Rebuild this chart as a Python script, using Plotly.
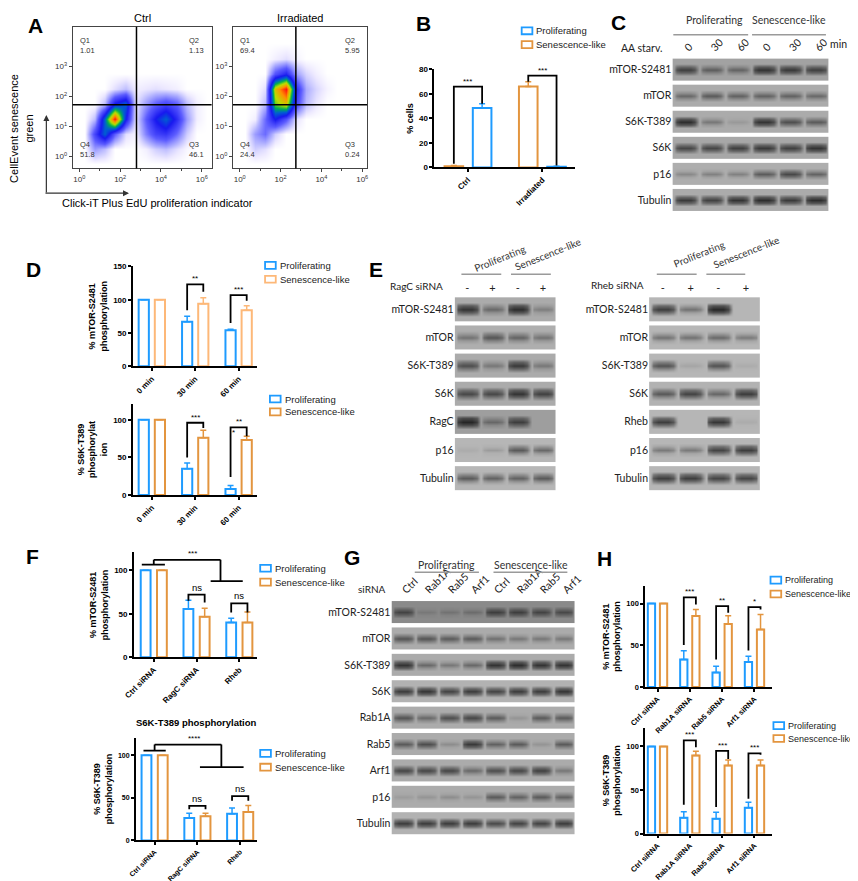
import plotly.graph_objects as go

W, H = 858, 881
BLUE = '#1E9BFF'
ORANGE = '#E3953F'
ORANGE_LIGHT = '#FDB878'
BAR_FONT = 'Liberation Sans, Arial, sans-serif'
BLOT_FONT = 'Lato, Open Sans, sans-serif'

# ---------------- A: flow cytometry (density on a log10 grid) ----------------
flow_x = [-0.25, 0.25, 0.75, 1.25, 1.75, 2.25, 2.75, 3.25, 3.75, 4.25, 4.75, 5.25, 5.75, 6.25]
flow_y = [-0.25, 0.25, 0.75, 1.25, 1.75, 2.25, 2.75, 3.25, 3.75, 4.25]
ctrl_density = [
    [0, 0, 0, 0, 0, 0, 0, 0, 0, 0, 0, 0, 0, 0],
    [0, 0, 1.2, 0.8, 0, 0, 0, 0.2, 0.6, 0.8, 0.4, 0.1, 0, 0],
    [0, 0, 2.5, 4.5, 2, 0.4, 0.15, 1.5, 2.5, 2.8, 1.8, 0.6, 0, 0],
    [0, 0, 0.8, 4.5, 9, 3.5, 0.3, 2, 3.5, 4.5, 3, 1.2, 0.2, 0],
    [0, 0, 0, 0.8, 3.5, 4.5, 0.3, 1.2, 2, 2.5, 2, 0.8, 0.2, 0],
    [0, 0, 0, 0, 0.4, 0.8, 0.2, 0.3, 0.4, 0.3, 0.2, 0, 0, 0],
    [0, 0, 0, 0, 0, 0, 0, 0, 0, 0, 0, 0, 0, 0],
    [0, 0, 0, 0, 0, 0, 0, 0, 0, 0, 0, 0, 0, 0],
    [0, 0, 0, 0, 0, 0, 0, 0, 0, 0, 0, 0, 0, 0],
    [0, 0, 0, 0, 0, 0, 0, 0, 0, 0, 0, 0, 0, 0],
]
irr_density = [
    [0, 0, 0, 0, 0, 0, 0, 0, 0, 0, 0, 0, 0, 0],
    [0, 0, 0.6, 0.4, 0, 0, 0, 0, 0, 0, 0, 0, 0, 0],
    [0, 0, 1.2, 1.8, 0.6, 0, 0, 0, 0, 0, 0, 0, 0, 0],
    [0, 0, 0.2, 1.8, 3.5, 2.2, 0.4, 0, 0, 0, 0, 0, 0, 0],
    [0, 0, 0, 0.8, 6, 7, 2.5, 0.8, 0.3, 0, 0, 0, 0, 0],
    [0, 0, 0, 0.4, 7, 9, 3, 1, 0.5, 0.15, 0, 0, 0, 0],
    [0, 0, 0, 0, 2.2, 3.2, 1.2, 0.5, 0.2, 0, 0, 0, 0, 0],
    [0, 0, 0, 0, 0.2, 0.4, 0.15, 0, 0, 0, 0, 0, 0, 0],
    [0, 0, 0, 0, 0, 0, 0, 0, 0, 0, 0, 0, 0, 0],
    [0, 0, 0, 0, 0, 0, 0, 0, 0, 0, 0, 0, 0, 0],
]
flow_xticks = [0, 2, 4, 6]
flow_yticks = [0, 1, 2, 3]
ctrl_gate = [2.8, 1.72]
irr_gate = [2.75, 1.72]
ctrl_quadrants = ['1.01', '1.13', '51.8', '46.1']   # Q1, Q2, Q4, Q3
irr_quadrants = ['69.4', '5.95', '24.4', '0.24']

# ---------------- B ----------------
b_groups = ['Ctrl', 'Irradiated']
b_prolif = [48.5, 0.6]
b_prolif_err = [3.5, 0.3]
b_senes = [1.0, 66]
b_senes_err = [0.6, 4]
b_brackets = [(0, 3, 66, 52, '***'), (1, 70, 75, 1.5, '***')]

# ---------------- C ----------------
c_lanes = ['0', '30', '60', '0', '30', '60']
c_proteins = ['mTOR-S2481', 'mTOR', 'S6K-T389', 'S6K', 'p16', 'Tubulin']
c_bands = [
    [0.75, 0.5, 0.45, 0.85, 0.8, 0.75],
    [0.45, 0.55, 0.5, 0.5, 0.5, 0.45],
    [0.9, 0.35, 0.12, 0.85, 0.65, 0.55],
    [0.7, 0.7, 0.75, 0.8, 0.75, 0.85],
    [0.25, 0.3, 0.3, 0.55, 0.7, 0.5],
    [0.8, 0.75, 0.85, 0.9, 0.8, 0.9],
]
c_background = [0.34, 0.3, 0.3, 0.32, 0.28, 0.3]

# ---------------- D ----------------
d_groups = ['0 min', '30 min', '60 min']
d1_prolif = [100, 67, 54]
d1_prolif_err = [0, 8, 1.5]
d1_senes = [100, 94, 84]
d1_senes_err = [0, 9, 7]
d1_brackets = [(1, 84, 123, 112, '**'), (2, 65, 107, 98.5, '***')]
d2_prolif = [100, 35, 8]
d2_prolif_err = [0, 7.5, 4.5]
d2_senes = [100, 76, 73]
d2_senes_err = [0, 10, 5]
d2_brackets = [(1, 50, 96, 89, '***'), (2, 24, 90, 78, '**')]

# ---------------- E ----------------
e_lanes = ['-', '+', '-', '+']
e_left_proteins = ['mTOR-S2481', 'mTOR', 'S6K-T389', 'S6K', 'RagC', 'p16', 'Tubulin']
e_left_bands = [
    [0.85, 0.45, 0.9, 0.3],
    [0.4, 0.6, 0.5, 0.4],
    [0.65, 0.35, 0.8, 0.35],
    [0.7, 0.7, 0.85, 0.75],
    [0.95, 0.4, 0.75, 0.0],
    [0.1, 0.2, 0.6, 0.5],
    [0.6, 0.55, 0.55, 0.6],
]
e_left_background = [0.3, 0.28, 0.3, 0.3, 0.36, 0.22, 0.22]
e_right_proteins = ['mTOR-S2481', 'mTOR', 'S6K-T389', 'S6K', 'Rheb', 'p16', 'Tubulin']
e_right_bands = [
    [0.8, 0.45, 0.95, 0.0],
    [0.45, 0.45, 0.5, 0.4],
    [0.65, 0.15, 0.65, 0.1],
    [0.6, 0.75, 0.5, 0.8],
    [0.8, 0.0, 0.85, 0.1],
    [0.4, 0.4, 0.75, 0.8],
    [0.8, 0.8, 0.75, 0.75],
]
e_right_background = [0.22, 0.22, 0.22, 0.25, 0.22, 0.22, 0.22]

# ---------------- F ----------------
f_groups = ['Ctrl siRNA', 'RagC siRNA', 'Rheb']
f1_prolif = [100, 55.5, 40]
f1_prolif_err = [0, 10, 5]
f1_senes = [100, 46.5, 40]
f1_senes_err = [0, 10, 12]
f1_brackets = [(1, 65, 72, 63, 'ns'), (2, 51.5, 62, 51.5, 'ns')]
f2_prolif = [100, 26.5, 31.5]
f2_prolif_err = [0, 5.5, 6.5]
f2_senes = [100, 28.5, 33.5]
f2_senes_err = [0, 3.5, 7.5]
f2_brackets = [(1, 36.7, 40.7, 36.7, 'ns'), (2, 46.6, 52, 46.6, 'ns')]

# ---------------- G ----------------
g_lanes = ['Ctrl', 'Rab1A', 'Rab5', 'Arf1', 'Ctrl', 'Rab1A', 'Rab5', 'Arf1']
g_proteins = ['mTOR-S2481', 'mTOR', 'S6K-T389', 'S6K', 'Rab1A', 'Rab5', 'Arf1', 'p16', 'Tubulin']
g_bands = [
    [0.65, 0.15, 0.2, 0.25, 0.7, 0.7, 0.65, 0.6],
    [0.6, 0.6, 0.55, 0.55, 0.4, 0.35, 0.35, 0.35],
    [0.85, 0.45, 0.35, 0.45, 0.85, 0.9, 0.85, 0.85],
    [0.8, 0.85, 0.75, 0.8, 0.75, 0.8, 0.8, 0.85],
    [0.6, 0.45, 0.65, 0.7, 0.55, 0.15, 0.55, 0.55],
    [0.55, 0.65, 0.2, 0.8, 0.5, 0.55, 0.15, 0.55],
    [0.7, 0.7, 0.7, 0.45, 0.65, 0.7, 0.75, 0.35],
    [0.1, 0.15, 0.2, 0.15, 0.55, 0.5, 0.55, 0.5],
    [0.8, 0.8, 0.8, 0.8, 0.7, 0.75, 0.75, 0.8],
]
g_background = [0.45, 0.3, 0.3, 0.25, 0.3, 0.3, 0.3, 0.3, 0.25]

# ---------------- H ----------------
h_groups = ['Ctrl siRNA', 'Rab1A siRNA', 'Rab5 siRNA', 'Arf1 siRNA']
h1_prolif = [100, 33, 17.5, 30]
h1_prolif_err = [0, 10.5, 7.5, 7]
h1_senes = [100, 85, 75.5, 69]
h1_senes_err = [0, 8, 10, 18]
h1_brackets = [(1, 50.4, 107.4, 98.8, '***'), (2, 33, 97, 89, '**'), (3, 43.8, 95.7, 93, '*')]
h2_prolif = [100, 18, 17, 29.5]
h2_prolif_err = [0, 7, 7.5, 6.5]
h2_senes = [100, 89.5, 78, 78]
h2_senes_err = [0, 5, 6.5, 6.5]
h2_brackets = [(1, 33, 107, 99, '***'), (2, 30.4, 95, 85.5, '***'), (3, 40, 92, 90.5, '***')]

FLOW_CS = [[0, 'white'], [0.03, '#eeeaff'], [0.1, '#b4b4ff'], [0.22, '#5c5cff'], [0.38, '#1818f0'],
           [0.5, '#0060d0'], [0.6, '#00b050'], [0.72, '#b8e000'], [0.86, '#ff9000'], [1, '#ff1010']]
BLOT_CS = [[0, '#d4d4d4'], [0.3, '#ababab'], [0.6, '#686868'], [1, '#1a1a1a']]

fig = go.Figure()


def refs(i):
    s = '' if i == 1 else str(i)
    return 'x' + s, 'y' + s


def place_axes(i, box, xcfg, ycfg):
    x0, x1, y0, y1 = box
    s = '' if i == 1 else str(i)
    fig.update_layout({
        'xaxis' + s: dict(domain=[x0 / W, x1 / W], anchor='y' + s, showgrid=False, zeroline=False, **xcfg),
        'yaxis' + s: dict(domain=[1 - y1 / H, 1 - y0 / H], anchor='x' + s, showgrid=False, zeroline=False, **ycfg),
    })


def text(x, y, s, size=9, bold=False, angle=0, xanchor='center', yanchor='middle',
         family=BAR_FONT, color='black', align='center'):
    fig.add_annotation(x=x / W, y=1 - y / H, xref='paper', yref='paper', showarrow=False,
                       text=f'<b>{s}</b>' if bold else s, textangle=angle, align=align,
                       xanchor=xanchor, yanchor=yanchor, font=dict(family=family, size=size, color=color))


def hline(x0, x1, y, color='#9a9a9a', width=1.5):
    fig.add_shape(type='line', xref='paper', yref='paper', x0=x0 / W, x1=x1 / W,
                  y0=1 - y / H, y1=1 - y / H, line=dict(color=color, width=width))


# ---------------- A ----------------
def flow_plot(i, box, title, density, gate, quads, xmax):
    xa, ya = refs(i)
    fig.add_trace(go.Heatmap(x=flow_x, y=flow_y, z=density, zmin=0, zmax=9, colorscale=FLOW_CS,
                             zsmooth='best', showscale=False, hoverinfo='skip', xaxis=xa, yaxis=ya))
    tick = dict(ticks='outside', ticklen=3, tickcolor='#444', showline=True, mirror=True,
                linecolor='#444', linewidth=1, tickfont=dict(family=BAR_FONT, size=8, color='#333'))
    place_axes(i, box,
               dict(range=[-0.33, xmax], tickvals=flow_xticks,
                    ticktext=[f'10<sup>{v}</sup>' for v in flow_xticks],
                    minor=dict(dtick=1, ticklen=2, tickcolor='#444', ticks='outside'), **tick),
               dict(range=[-0.4, 4.32], tickvals=flow_yticks,
                    ticktext=[f'10<sup>{v}</sup>' for v in flow_yticks], **tick))
    fig.add_shape(type='line', xref=xa, yref=ya + ' domain', x0=gate[0], x1=gate[0], y0=0, y1=1,
                  line=dict(color='black', width=1.5))
    fig.add_shape(type='line', xref=xa + ' domain', yref=ya, x0=0, x1=1, y0=gate[1], y1=gate[1],
                  line=dict(color='black', width=1.5))
    spots = [('Q1', 0.04, 0.95, 'left', 'top'), ('Q2', 0.96, 0.95, 'right', 'top'),
             ('Q4', 0.04, 0.05, 'left', 'bottom'), ('Q3', 0.96, 0.05, 'right', 'bottom')]
    for (q, qx, qy, xan, yan), val in zip(spots, quads):
        fig.add_annotation(x=qx, y=qy, xref=xa + ' domain', yref=ya + ' domain', showarrow=False,
                           text=f'{q}<br>{val}', align='left', xanchor=xan, yanchor=yan,
                           font=dict(family=BAR_FONT, size=7.5, color='#333'))
    x0, x1 = box[0], box[1]
    text((x0 + x1) / 2, 6, title, size=11)


flow_plot(1, (50, 193, 15, 158), 'Ctrl', ctrl_density, ctrl_gate, ctrl_quadrants, 6.48)
flow_plot(2, (215, 353, 15, 158), 'Irradiated', irr_density, irr_gate, irr_quadrants, 6.24)
# rotated annotations drift right in plotly, so the anchor sits further left
text(-3, 118, 'CellEvent senescence<br>green', size=11, angle=-90)
text(137, 193, 'Click-iT Plus EdU proliferation indicator', size=11)
fig.add_annotation(x=23 / W, y=1 - 104 / H, xref='paper', yref='paper', ax=0, ay=79,
                   axref='pixel', ayref='pixel', showarrow=True, arrowhead=2, arrowsize=1,
                   arrowwidth=1.2, arrowcolor='#333', text='')
fig.add_annotation(x=108 / W, y=1 - 183 / H, xref='paper', yref='paper', ax=-85, ay=0,
                   axref='pixel', ayref='pixel', showarrow=True, arrowhead=2, arrowsize=1,
                   arrowwidth=1.2, arrowcolor='#333', text='')


# ---------------- bar charts ----------------
def bar_chart(i, box, groups, series, xr, yr, yticks, off, width, ytitle, legend_at,
              brackets, extra_lines=None, size=8, legend_size=9.5):
    xa, ya = refs(i)
    n = len(groups)
    lx, ly, gap = legend_at
    for k, (name, vals, errs, color, side) in enumerate(series):
        fig.add_trace(go.Bar(
            x=[g + side * off for g in range(n)], y=vals, width=width, name=name,
            marker=dict(color='white', line=dict(color=color, width=2)),
            error_y=dict(type='data', symmetric=False, array=errs, arrayminus=[0] * n,
                         color=color, thickness=1.5, width=3),
            xaxis=xa, yaxis=ya, showlegend=False, hoverinfo='skip'))
        # legend entry: outlined box + label
        yy = ly + k * gap
        fig.add_shape(type='rect', xref='paper', yref='paper', x0=lx / W, x1=(lx + 11) / W,
                      y0=1 - (yy - 3.5) / H, y1=1 - (yy + 3.5) / H,
                      line=dict(color=color, width=1.8), fillcolor='white')
        text(lx + 13, yy, name, size=legend_size, xanchor='left', color='#222')
    xs, ys = [], []
    for g, left, top, right, label in brackets:
        xs += [g - off, g - off, g + off, g + off, None]
        ys += [left, top, top, right, None]
        fig.add_annotation(x=g, y=top, xref=xa, yref=ya, text=label, showarrow=False,
                           yanchor='bottom', yshift=-1 if label != 'ns' else 0,
                           font=dict(family=BAR_FONT, size=8 if label != 'ns' else 9.5,
                                     color='black'))
    for seg in (extra_lines or []):
        xs += [seg[0], seg[2], None]
        ys += [seg[1], seg[3], None]
    fig.add_trace(go.Scatter(x=xs, y=ys, mode='lines', line=dict(color='black', width=1.8),
                             showlegend=False, cliponaxis=False, hoverinfo='skip',
                             xaxis=xa, yaxis=ya))
    axis = dict(ticks='outside', ticklen=3, tickwidth=1.5, tickcolor='black', showline=True,
                linewidth=1.5, linecolor='black',
                tickfont=dict(family=BAR_FONT, size=size, color='black'))
    place_axes(i, box,
               dict(range=xr, tickvals=list(range(n)), ticktext=[f'<b>{g}</b>' for g in groups],
                    tickangle=-45, **axis),
               dict(range=yr, tickvals=yticks, ticktext=[f'<b>{t}</b>' for t in yticks],
                    title=dict(text=f'<b>{ytitle}</b>', standoff=4,
                               font=dict(family=BAR_FONT, size=9, color='black')),
                    **axis))


bar_chart(3, (422, 567, 58, 157), b_groups,
          [('Proliferating', b_prolif, b_prolif_err, BLUE, 1),
           ('Senescence-like', b_senes, b_senes_err, ORANGE, -1)],
          [-0.454, 1.44], [0, 80], [0, 20, 40, 60, 80], 0.19, 0.25, '% cells', (512, 19, 14),
          b_brackets)

bar_chart(5, (112, 240, 257, 358), d_groups,
          [('Proliferating', d1_prolif, d1_prolif_err, BLUE, -1),
           ('Senescence-like', d1_senes, d1_senes_err, ORANGE_LIGHT, 1)],
          [-0.437, 2.43], [0, 150], [0, 50, 100, 150], 0.186, 0.235,
          '% mTOR-S2481<br>phosphorylation', (248, 256, 14), d1_brackets)

bar_chart(6, (112, 240, 396, 488), d_groups,
          [('Proliferating', d2_prolif, d2_prolif_err, BLUE, -1),
           ('Senescence-like', d2_senes, d2_senes_err, ORANGE, 1)],
          [-0.437, 2.43], [0, 121], [0, 50, 100], 0.186, 0.235,
          '% S6K-T389<br>phosphorylat<br>ion', (253, 391, 13), d2_brackets)
fig.add_annotation(x=1.88, y=83, xref='x6', yref='y6', text='*', showarrow=False,
                   font=dict(family=BAR_FONT, size=8, color='black'))

bar_chart(9, (113, 240, 546, 652), f_groups,
          [('Proliferating', f1_prolif, f1_prolif_err, BLUE, -1),
           ('Senescence-like', f1_senes, f1_senes_err, ORANGE, 1)],
          [-0.466, 2.42], [0, 120.5], [0, 50, 100], 0.19, 0.23,
          '% mTOR-S2481<br>phosphorylation', (243, 562, 14), f1_brackets,
          extra_lines=[(-0.28, 106.5, 0.26, 106.5), (0, 106.5, 0, 112), (0, 112, 1.56, 112),
                       (1.56, 112, 1.56, 87.5), (1.33, 87.5, 2.08, 87.5)])
fig.add_annotation(x=0.9, y=112, xref='x9', yref='y9', text='***', showarrow=False,
                   yanchor='bottom', font=dict(family=BAR_FONT, size=8, color='black'))

bar_chart(10, (115, 240, 733, 837), f_groups,
          [('Proliferating', f2_prolif, f2_prolif_err, BLUE, -1),
           ('Senescence-like', f2_senes, f2_senes_err, ORANGE, 1)],
          [-0.44, 2.4], [0, 120.9], [0, 50, 100], 0.19, 0.23,
          '% S6K-T389<br>phosphorylation', (243, 749, 14), f2_brackets,
          extra_lines=[(-0.26, 105.6, 0.26, 105.6), (0, 105.6, 0, 112.6), (0, 112.6, 1.56, 112.6),
                       (1.56, 112.6, 1.56, 86), (1.06, 86, 2.08, 86)], size=7)
fig.add_annotation(x=0.92, y=112.6, xref='x10', yref='y10', text='****', showarrow=False,
                   yanchor='bottom', font=dict(family=BAR_FONT, size=8, color='black'))
text(177, 718, 'S6K-T389 phosphorylation', size=9.5, bold=True)

bar_chart(12, (639, 770, 580, 682), h_groups,
          [('Proliferating', h1_prolif, h1_prolif_err, BLUE, -1),
           ('Senescence-like', h1_senes, h1_senes_err, ORANGE, 1)],
          [-0.383, 3.556], [0, 121], [0, 50, 100], 0.187, 0.225,
          '% mTOR-S2481<br>phosphorylation', (768, 574, 14), h1_brackets, size=7.5,
          legend_size=9)

bar_chart(13, (639, 770, 723, 830), h_groups,
          [('Proliferating', h2_prolif, h2_prolif_err, BLUE, -1),
           ('Senescence-like', h2_senes, h2_senes_err, ORANGE, 1)],
          [-0.383, 3.556], [0, 121.6], [0, 50, 100], 0.187, 0.225,
          '% S6K-T389<br>phosphorylation', (771, 721, 13), h2_brackets, size=7.5,
          legend_size=9)

# ---------------- western blots ----------------
LANE_DX = [-0.45, -0.36, -0.18, 0.0, 0.18, 0.36]
LANE_FX = [0.0, 0.8, 1.0, 1.0, 1.0, 0.8]
ROW_DY = [-0.36, -0.24, -0.12, 0.0, 0.12, 0.24, 0.36]


def blot(i, box, proteins, lanes, bands, background, lane_angle=0, lane_size=10.5):
    xa, ya = refs(i)
    n = len(lanes)
    xs, fx, lane_of = [], [], []
    for k in range(n):
        xs += [k + d for d in LANE_DX]
        fx += LANE_FX
        lane_of += [k] * len(LANE_DX)
    xs.append(n - 1 + 0.45)
    fx.append(0.0)
    lane_of.append(n - 1)
    for r, (row, bg) in enumerate(zip(bands, background)):
        z = []
        for dy in ROW_DY:
            line = []
            for j in range(len(xs)):
                level = row[lane_of[j]]
                if dy == 0:
                    fy = 1.0
                elif abs(dy) < 0.15:
                    fy = 0.15 + 0.55 * level
                else:
                    fy = 0.0
                line.append(bg + (0.97 - bg) * level * fx[j] * fy)
            z.append(line)
        fig.add_trace(go.Heatmap(x=xs, y=[r + d for d in ROW_DY], z=z, zmin=0, zmax=1,
                                 colorscale=BLOT_CS, zsmooth='best', showscale=False,
                                 hoverinfo='skip', xaxis=xa, yaxis=ya))
    font = dict(family=BLOT_FONT, size=10.5, color='#222')
    place_axes(i, box,
               dict(range=[-0.5, n - 0.5], side='top', tickvals=list(range(n)), ticktext=lanes,
                    tickangle=lane_angle, ticks='', showline=False,
                    tickfont=dict(family=BLOT_FONT, size=lane_size, color='#222')),
               dict(range=[len(proteins) - 0.5, -0.5], tickvals=list(range(len(proteins))),
                    ticktext=proteins, ticks='', showline=False, tickfont=font))


blot(4, (667, 828, 45, 203), c_proteins, c_lanes, c_bands, c_background, lane_angle=-45)
text(710, 8, 'Proliferating', size=10.5, family=BLOT_FONT, color='#333')
text(787, 8, 'Senescence-like', size=10.5, family=BLOT_FONT, color='#333')
hline(668, 745, 23)
hline(749, 825, 23)
text(658, 36, 'AA starv.', size=10.5, family=BLOT_FONT, color='#222', xanchor='right')
text(838, 32, 'min', size=10.5, family=BLOT_FONT, color='#222')

blot(7, (443, 547, 286, 485), e_left_proteins, e_lanes, e_left_bands, e_left_background,
     lane_size=11)
text(433, 277, 'RagC siRNA', size=10, family=BLOT_FONT, color='#222', xanchor='right')
text(490, 249, 'Proliferating', size=10, family=BLOT_FONT, color='#333', angle=-22)
text(539, 245, 'Senescence-like', size=10, family=BLOT_FONT, color='#333', angle=-22)
hline(450, 491, 265)
hline(501, 542, 265)

blot(8, (643, 757, 286, 485), e_right_proteins, e_lanes, e_right_bands, e_right_background,
     lane_size=11)
text(640, 276, 'Rheb siRNA', size=10, family=BLOT_FONT, color='#222', xanchor='right')
text(694, 244, 'Proliferating', size=10, family=BLOT_FONT, color='#333', angle=-22)
text(743, 242, 'Senescence-like', size=10, family=BLOT_FONT, color='#333', angle=-22)
hline(651, 692, 265)
hline(702, 742, 265)

blot(11, (378, 567, 593, 833), g_proteins, g_lanes, g_bands, g_background, lane_angle=-45)
text(435, 559, 'Proliferating', size=10.5, family=BLOT_FONT, color='#333')
text(522, 559, 'Senescence-like', size=10.5, family=BLOT_FONT, color='#333')
hline(402, 468, 566)
hline(483, 559, 566)
text(358, 583, 'siRNA', size=10, family=BLOT_FONT, color='#222')

# ---------------- panel letters ----------------
for letter, lx, ly in [('A', 12, 14), ('B', 411, 12), ('C', 612, 11), ('D', 10, 260),
                       ('E', 362, 260), ('F', 9, 550), ('G', 337, 551), ('H', 597, 552)]:
    text(lx, ly, letter, size=21, bold=True)

fig.update_layout(width=W, height=H, margin=dict(l=0, r=0, t=0, b=0), autosize=False,
                  paper_bgcolor='white', plot_bgcolor='white', barmode='overlay',
                  showlegend=False)

fig.write_html("out.html")
